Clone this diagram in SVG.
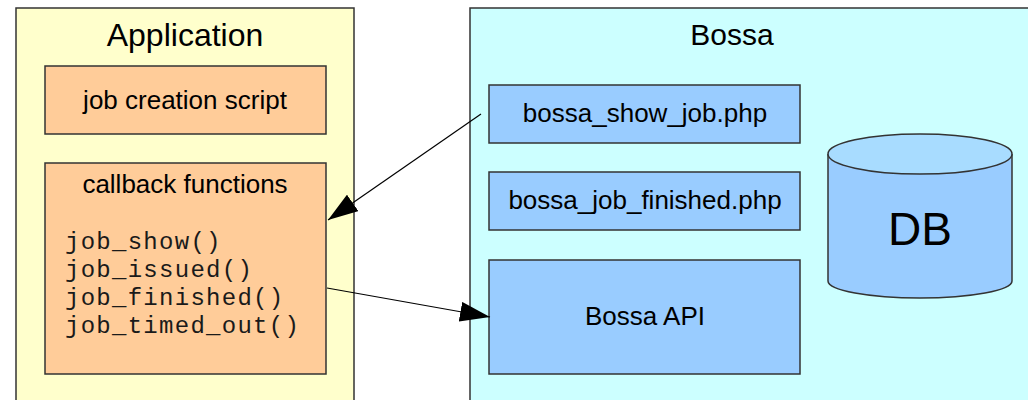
<svg xmlns="http://www.w3.org/2000/svg" width="1028" height="400" viewBox="0 0 1028 400">
<defs>
<style>
.box{stroke:#333;stroke-width:1.5}
.t{font-family:"Liberation Sans",Arial,sans-serif;fill:#000;text-anchor:middle}
.s{font-size:26px}
.m{font-family:"Liberation Mono","Courier New",monospace;font-size:24px;letter-spacing:1.27px;fill:#1a1a1a}
.c{stroke:#000;stroke-width:1.2;fill:none;marker-end:url(#ah)}
</style>
<marker id="ah" viewBox="0 0 30 20" refX="30" refY="10" markerWidth="30" markerHeight="20" markerUnits="userSpaceOnUse" orient="auto">
<path d="M0,0 L30,10 L0,20 Z" fill="#000"/>
</marker>
</defs>
<rect width="1028" height="400" fill="#fff"/>
<g id="application">
<rect class="box" x="16" y="8" width="338" height="400" fill="#ffffcc"/>
<text class="t" x="185" y="46" font-size="32">Application</text>
</g>
<g id="bossa">
<rect class="box" x="470" y="8" width="600" height="400" fill="#ccffff"/>
<text class="t" x="732" y="45" font-size="30">Bossa</text>
</g>
<g id="job-creation-script">
<rect class="box" x="45" y="66" width="281" height="68" fill="#ffcc99"/>
<text class="t s" x="185" y="109">job creation script</text>
</g>
<g id="callback-functions">
<rect class="box" x="45" y="163" width="281" height="211" fill="#ffcc99"/>
<text class="t s" x="185" y="193">callback functions</text>
<text class="m" x="65" y="249">job_show()</text>
<text class="m" x="65" y="277">job_issued()</text>
<text class="m" x="65" y="305">job_finished()</text>
<text class="m" x="65" y="333">job_timed_out()</text>
</g>
<g id="bossa-show-job">
<rect class="box" x="489" y="85" width="311" height="58" fill="#99ccff"/>
<text class="t s" x="645" y="122">bossa_show_job.php</text>
</g>
<g id="bossa-job-finished">
<rect class="box" x="489" y="172" width="311" height="58" fill="#99ccff"/>
<text class="t s" x="645" y="209">bossa_job_finished.php</text>
</g>
<g id="bossa-api">
<rect class="box" x="489" y="260" width="311" height="114" fill="#99ccff"/>
<text class="t s" x="645" y="325">Bossa API</text>
</g>
<g id="db">
<path class="box" d="M828,154 L828,281 A92,17 0 0 0 1012,281 L1012,154" fill="#99ccff"/>
<ellipse class="box" cx="920" cy="154" rx="92" ry="20" fill="#a8dcff"/>
<text class="t" x="920" y="245" font-size="46">DB</text>
</g>
<g id="connectors">
<line class="c" x1="481" y1="114" x2="328" y2="220"/>
<line class="c" x1="327" y1="288" x2="490" y2="317"/>
</g>
</svg>
